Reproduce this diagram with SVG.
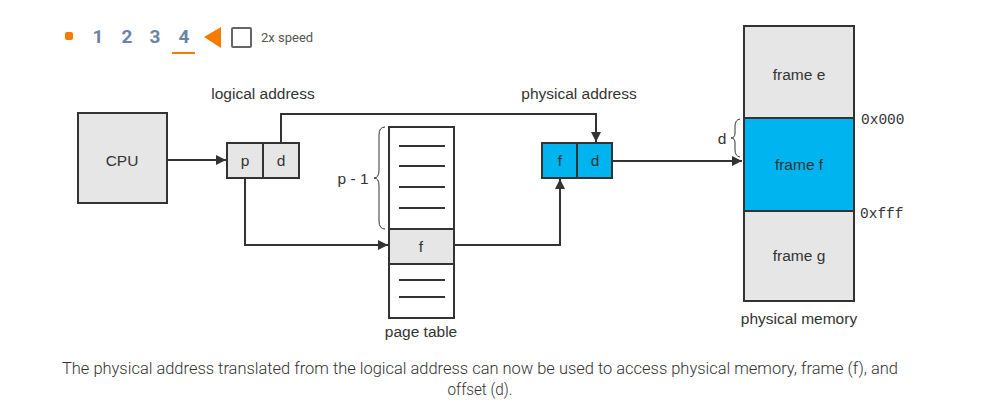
<svg xmlns="http://www.w3.org/2000/svg" width="1006" height="408" viewBox="0 0 1006 408">
<defs>
<marker id="ah" viewBox="0 0 10 10" refX="10" refY="5" markerWidth="10" markerHeight="10" markerUnits="userSpaceOnUse" orient="auto"><path d="M0,0 L10,5 L0,10 z" fill="#333"/></marker>
<style>
.box{stroke:#333;stroke-width:2}
.gray{fill:#e6e6e6}
.blue{fill:#00b4f0}
.white{fill:#fff}
.t{font-family:"Liberation Sans",Arial,sans-serif;font-size:15.5px;fill:#333;text-anchor:middle}
.mono{font-family:"Liberation Mono","Courier New",monospace;font-size:14.5px;fill:#333}
.ln{stroke:#333;stroke-width:2;fill:none}
.num{font-family:Roboto,"Liberation Sans",sans-serif;font-weight:bold;font-size:19px;fill:#6a84a6;text-anchor:middle}
.cap{font-family:Roboto,"Liberation Sans",sans-serif;font-weight:300;font-size:17px;fill:#333;text-anchor:middle}
</style>
</defs>
<rect width="1006" height="408" fill="#fff"/>
<g id="controls">
<rect x="65" y="32" width="8" height="8" rx="2" fill="#f57c00"/>
<text x="98" y="43" class="num">1</text>
<text x="127" y="43" class="num">2</text>
<text x="155" y="43" class="num">3</text>
<text x="184" y="43" class="num">4</text>
<rect x="172" y="52" width="23" height="2" fill="#f57c00"/>
<path d="M204,37 L221,27 L221,48 z" fill="#f57c00"/>
<rect x="232" y="28" width="19" height="19" rx="1" fill="#fff" stroke="#666" stroke-width="2"/>
<text x="261" y="42" font-family="Roboto,'Liberation Sans',sans-serif" font-size="13" fill="#555">2x speed</text>
</g>
<g id="cpu">
<rect x="78" y="113" width="89" height="90" class="box gray"/>
<text x="122" y="166" class="t">CPU</text>
</g>
<g id="logical-address">
<rect x="227" y="143" width="36" height="35" class="box gray"/>
<rect x="263" y="143" width="36" height="35" class="box gray"/>
<text x="245" y="166" class="t">p</text>
<text x="281" y="166" class="t">d</text>
<text x="263" y="99" class="t">logical address</text>
</g>
<g id="page-table">
<rect x="389" y="127" width="65" height="191" class="box white"/>
<rect x="389" y="229" width="65" height="35" class="box gray"/>
<text x="421" y="252" class="t">f</text>
<g class="ln">
<line x1="399" y1="146" x2="445" y2="146"/>
<line x1="399" y1="166" x2="445" y2="166"/>
<line x1="399" y1="187" x2="445" y2="187"/>
<line x1="399" y1="208" x2="445" y2="208"/>
<line x1="399" y1="280" x2="445" y2="280"/>
<line x1="399" y1="297" x2="445" y2="297"/>
</g>
<path d="M385,127 Q379,127 379,135 L379,170 Q379,178 374,178 Q379,178 379,186 L379,221 Q379,229 385,229" fill="none" stroke="#333" stroke-width="1"/>
<text x="353" y="184" class="t">p - 1</text>
<text x="421" y="337" class="t">page table</text>
</g>
<g id="physical-address">
<rect x="542" y="143" width="35" height="35" class="box blue"/>
<rect x="577" y="143" width="35" height="35" class="box blue"/>
<text x="560" y="166" class="t">f</text>
<text x="595" y="166" class="t">d</text>
<text x="579" y="99" class="t">physical address</text>
</g>
<g id="physical-memory">
<rect x="744" y="26" width="110" height="275" class="box gray"/>
<rect x="744" y="118" width="110" height="93" class="box blue"/>
<text x="799" y="80" class="t">frame e</text>
<text x="799" y="170" class="t">frame f</text>
<text x="799" y="261" class="t">frame g</text>
<text x="799" y="324" class="t">physical memory</text>
<text x="861" y="124" class="mono">0x000</text>
<text x="860" y="218" class="mono">0xfff</text>
<path d="M740,119 Q735,120 735,126 L735,133 Q735,138 731,138 Q735,138 735,143 L735,150 Q735,156 740,157" fill="none" stroke="#333" stroke-width="1"/>
<text x="722" y="144" class="t">d</text>
</g>
<g id="connectors" class="ln">
<line x1="167" y1="160" x2="226" y2="160" marker-end="url(#ah)"/>
<polyline points="281,143 281,114 596,114 596,142" marker-end="url(#ah)"/>
<polyline points="245,178 245,245 388,245" marker-end="url(#ah)"/>
<polyline points="454,245 560,245 560,179" marker-end="url(#ah)"/>
<line x1="612" y1="161" x2="742" y2="161" marker-end="url(#ah)"/>
</g>
<g id="caption">
<text x="480" y="374" class="cap" textLength="836" lengthAdjust="spacingAndGlyphs">The physical address translated from the logical address can now be used to access physical memory, frame (f), and</text>
<text x="480" y="395" class="cap" textLength="65" lengthAdjust="spacingAndGlyphs">offset (d).</text>
</g>
</svg>
